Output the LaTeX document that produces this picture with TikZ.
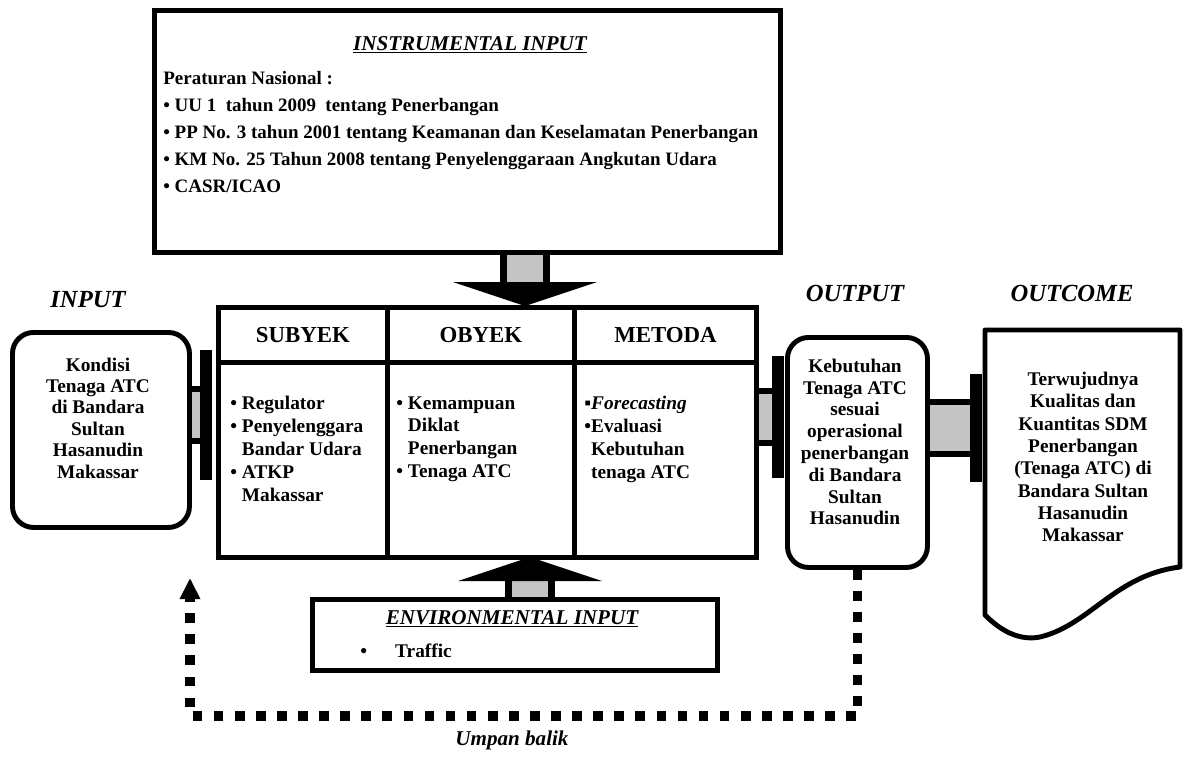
\documentclass[tikz,border=0pt]{standalone}
\usepackage{fontspec}
\setmainfont{Liberation Serif}
\usetikzlibrary{arrows.meta}

\begin{document}
\begin{tikzpicture}[x=0.02cm, y=-0.02cm,
  box/.style={draw=black, line width=2.8pt, inner sep=0pt, anchor=north west},
  rbox/.style={box, rounded corners=12pt},
  body/.style={font=\fontsize{11}{13}\selectfont\bfseries, inner sep=0pt},
  head/.style={font=\fontsize{13}{15}\selectfont\bfseries},
  tag/.style={font=\fontsize{14}{16}\selectfont\bfseries\itshape, inner sep=0pt},
  pipe/.style={line width=3.5pt, double=pipeGray, double distance=26pt},
  stem/.style={line width=4pt, double=pipeGray, double distance=21pt},
  flange/.style={fill=black, inner sep=0pt, minimum width=7pt},
  feedback/.style={line width=5.5pt, dash pattern=on 5.5pt off 6.5pt,
    -{Triangle[length=12pt,width=11pt]}}]

% Colori
\definecolor{pipeGray}{HTML}{C4C4C4}

% Unita' (1 px del riferimento)
\def\unitpx{0.02cm}
\newcommand\bulind{\phantom{•\ }}

% Sfondo
\fill[white] (0,0) rectangle (1188,764);
\useasboundingbox (0,0) rectangle (1188,764);

% Instrumental input
\node[box, minimum width=626*\unitpx, minimum height=242*\unitpx] (instr) at (152,8) {};
\node[font=\fontsize{12}{14}\selectfont\bfseries\itshape, inner sep=0pt] (instrTitle) at (470,45)
  {\underline{INSTRUMENTAL INPUT}};
\node[font=\fontsize{10.8}{15.3}\selectfont\bfseries, inner sep=0pt, anchor=north west, align=left]
  (instrList) at (163,71) {Peraturan Nasional :\\
  • UU 1\ \ tahun 2009\ \ tentang Penerbangan\\
  • PP No. 3 tahun 2001 tentang Keamanan dan Keselamatan Penerbangan\\
  • KM No. 25 Tahun 2008 tentang Penyelenggaraan Angkutan Udara\\
  • CASR/ICAO};

% Etichette
\node[tag] (tagIn) at (88,300) {INPUT};
\node[tag] (tagOut) at (855,293) {OUTPUT};
\node[tag] (tagOc) at (1072,293) {OUTCOME};

% Input
\node[rbox, minimum width=177*\unitpx, minimum height=195*\unitpx] (inbox) at (10,330) {};
\node[body, align=center, font=\fontsize{11}{12.2}\selectfont\bfseries] (inTxt) at (98,418)
  {Kondisi\\Tenaga ATC\\di Bandara\\Sultan\\Hasanudin\\Makassar};

% Blocco centrale: intestazioni
\node[box, head, minimum width=169*\unitpx, minimum height=55*\unitpx] (subyekHead) at (216,305) {SUBYEK};
\node[box, head, minimum width=187*\unitpx, minimum height=55*\unitpx] (obyekHead) at (385,305) {OBYEK};
\node[box, head, minimum width=182*\unitpx, minimum height=55*\unitpx] (metodaHead) at (572,305) {METODA};

% Blocco centrale: corpo
\node[box, minimum width=169*\unitpx, minimum height=195*\unitpx] (subyekBody) at (216,360) {};
\node[box, minimum width=187*\unitpx, minimum height=195*\unitpx] (obyekBody) at (385,360) {};
\node[box, minimum width=182*\unitpx, minimum height=195*\unitpx] (metodaBody) at (572,360) {};

\node[body, anchor=north west, align=left] (subyekList) at (230,396)
  {• Regulator\\• Penyelenggara\\\bulind Bandar Udara\\• ATKP\\\bulind Makassar};
\node[body, anchor=north west, align=left] (obyekList) at (396,396)
  {• Kemampuan\\\bulind Diklat\\\bulind Penerbangan\\• Tenaga ATC};
\node[body, anchor=north west, align=left] (metodaList) at (584,396)
  {▪\textit{Forecasting}\\•Evaluasi\\\phantom{•}Kebutuhan\\\phantom{•}tenaga ATC};

% Output
\node[rbox, minimum width=140*\unitpx, minimum height=230*\unitpx] (output) at (785,335) {};
\node[body, align=center, font=\fontsize{11}{12.4}\selectfont\bfseries] (outTxt) at (855,442)
  {Kebutuhan\\Tenaga ATC\\sesuai\\operasional\\penerbangan\\di Bandara\\Sultan\\Hasanudin};

% Outcome (documento)
\draw[line width=2.8pt, line join=round] (985,330) -- (1180,330) -- (1180,567)
  .. controls (1115,575) and (1090,625) .. (1040,637)
  .. controls (1015,642) and (995,625) .. (985,615) -- cycle;
\node[body, align=center, font=\fontsize{11}{12.7}\selectfont\bfseries] (outcome) at (1083,457)
  {Terwujudnya\\Kualitas dan\\Kuantitas SDM\\Penerbangan\\(Tenaga ATC) di\\Bandara Sultan\\Hasanudin\\Makassar};

% Environmental input
\node[box, minimum width=405*\unitpx, minimum height=71*\unitpx] (envBox) at (310,597) {};
\node[font=\fontsize{12}{14}\selectfont\bfseries\itshape, inner sep=0pt] (envTitle) at (512,619)
  {\underline{ENVIRONMENTAL INPUT}};
\node[body, anchor=west] (envList) at (360,651) {•\hspace{16pt}Traffic};

% Tubi di collegamento
\node[flange, minimum height=74pt] (flangeIn) at (206,415) {};
\node[flange, minimum height=70pt] (flangeOut) at (778,417) {};
\node[flange, minimum height=62pt] (flangeOc) at (976,428) {};
\draw[pipe] (inbox.east |- flangeIn) -- (flangeIn.west);
\draw[pipe] (metodaBody.east |- flangeOut) -- (flangeOut.west);
\draw[pipe] (output.east |- flangeOc) -- (flangeOc.west);

% Frecce verso il blocco centrale
\coordinate (tipTop) at (525,306);
\coordinate (tipBot) at (530,557);
\draw[stem] (instr.south -| tipTop) -- ([yshift=12.5pt]tipTop);
\fill (tipTop) -- ++(-72,-24) -- ++(144,0) -- cycle;
\draw[stem] (envBox.north -| tipBot) -- ([yshift=-12.5pt]tipBot);
\fill (tipBot) -- ++(-72,24) -- ++(144,0) -- cycle;

% Umpan balik
\coordinate (fbLow) at (190,716);
\coordinate (fbEnd) at (190,578);
\draw[feedback] (output.south) |- (fbLow) -- (fbEnd);
\node[tag, font=\fontsize{12}{14}\selectfont\bfseries\itshape] (fbTag) at (512,740) {Umpan balik};

\end{tikzpicture}
\end{document}
